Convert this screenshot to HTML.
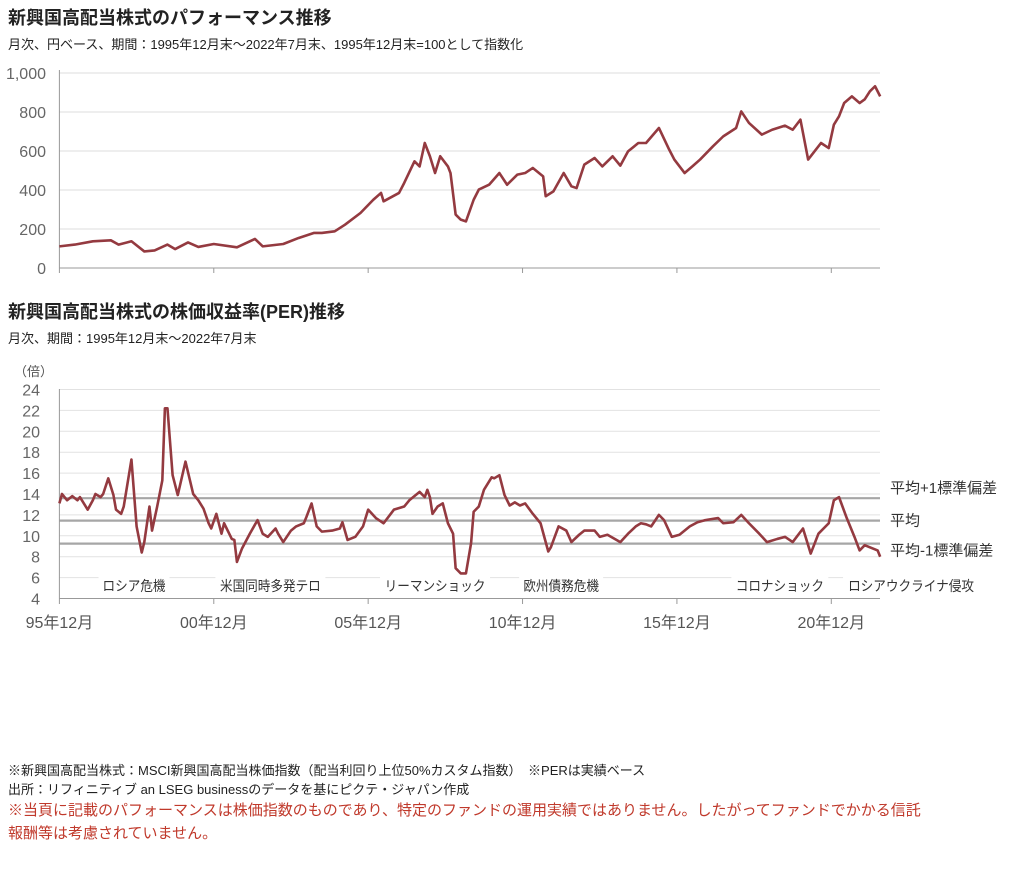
<!DOCTYPE html>
<html><head><meta charset="utf-8">
<style>
body{margin:0;background:#fff;font-family:"Liberation Sans","Noto Sans CJK JP",sans-serif;}
#wrap{position:relative;width:1028px;height:871px;overflow:hidden;}
.t{position:absolute;white-space:nowrap;color:#222;}
svg text{font-family:"Liberation Sans","Noto Sans CJK JP",sans-serif;}
</style></head><body>
<div id="wrap">
<div class="t" style="left:8px;top:4px;font-size:18px;font-weight:bold">新興国高配当株式のパフォーマンス推移</div>
<div class="t" style="left:8px;top:34px;font-size:13px">月次、円ベース、期間：1995年12月末～2022年7月末、1995年12月末=100として指数化</div>
<div class="t" style="left:8px;top:298px;font-size:18px;font-weight:bold">新興国高配当株式の株価収益率(PER)推移</div>
<div class="t" style="left:8px;top:328px;font-size:13px">月次、期間：1995年12月末～2022年7月末</div>
<svg id="svg" width="1028" height="871" style="position:absolute;left:0;top:0"></svg>
<div class="t" style="left:8px;top:760px;font-size:13px">※新興国高配当株式：MSCI新興国高配当株価指数（配当利回り上位50%カスタム指数）　※PERは実績ベース</div>
<div class="t" style="left:8px;top:779px;font-size:13px">出所：リフィニティブ an LSEG businessのデータを基にピクテ・ジャパン作成</div>
<div class="t" style="left:8px;top:799px;font-size:15px;color:#c0392b">※当頁に記載のパフォーマンスは株価指数のものであり、特定のファンドの運用実績ではありません。したがってファンドでかかる信託</div>
<div class="t" style="left:8px;top:822px;font-size:15px;color:#c0392b">報酬等は考慮されていません。</div>
</div>
<script>
const perfMonths=[0,6,13,20,23,28,33,37,42,45,50,54,60,69,76,79,87,93,99,102,107,111,117,122,125,126,132,134,138,140,142,144,146,148,151,152,154,156,158,161,163,167,171,174,178,181,184,188,189,192,196,199,201,204,208,211,215,218,221,225,228,233,237,239,243,246,249,254,258,263,265,268,273,277,282,285,288,291,293,296,299,301,303,305,308,311,313,315,317,319];
const perfValues=[111,120,137,142,120,137,85,90,120,97,131,108,123,106,149,111,123,154,180,180,188,222,282,350,385,342,385,436,547,521,641,573,487,573,521,487,274,248,239,350,402,427,487,427,479,487,513,470,368,393,487,419,410,530,564,521,573,525,598,641,641,718,607,556,487,521,556,624,675,718,803,744,684,709,730,709,761,556,590,641,615,735,778,846,880,846,865,906,932,880];
const perMonths=[0,1,3,5,7,8,11,13,14,16,17,19,21,22,24,25,28,30,32,33,35,36,38,40,41,42,44,46,49,52,54,56,58,59,61,63,64,67,68,69,71,74,77,79,81,84,85,87,90,92,95,96,98,100,102,106,109,110,112,115,118,120,123,126,130,134,136,140,142,143,144,145,147,149,151,153,154,156,158,160,161,163,165,168,169,171,173,175,177,179,181,184,187,190,191,194,197,199,202,204,208,210,213,218,221,224,226,228,230,233,235,238,241,245,248,251,256,258,262,265,268,272,275,279,282,285,289,292,295,299,301,303,306,309,311,313,315,318,319];
const perValues=[13.1,14.0,13.4,13.8,13.4,13.7,12.5,13.4,14.0,13.7,14.0,15.5,13.9,12.5,12.1,12.8,17.3,10.9,8.4,9.4,12.8,10.5,12.8,15.3,22.2,22.2,15.8,13.9,17.1,14.0,13.4,12.6,11.2,10.7,12.1,10.2,11.2,9.7,9.6,7.5,8.8,10.2,11.5,10.2,9.9,10.7,10.2,9.4,10.5,10.9,11.2,11.8,13.1,10.9,10.4,10.5,10.7,11.3,9.6,9.9,10.9,12.5,11.7,11.2,12.5,12.8,13.4,14.2,13.7,14.4,13.7,12.1,12.8,13.1,11.2,10.2,6.9,6.4,6.4,9.3,12.3,12.8,14.4,15.6,15.5,15.8,13.9,12.9,13.2,12.9,13.1,12.1,11.2,8.5,8.9,10.9,10.5,9.4,10.1,10.5,10.5,9.9,10.1,9.4,10.2,10.9,11.2,11.1,10.9,12.0,11.5,9.9,10.1,10.9,11.3,11.5,11.7,11.2,11.3,12.0,11.2,10.2,9.4,9.7,9.9,9.4,10.7,8.3,10.2,11.2,13.4,13.7,11.7,9.9,8.6,9.1,8.9,8.6,8.0];
const perfTicks=[0,200,400,600,800,1000];
const perfTickLabels=["0","200","400","600","800","1,000"];
const perTicks=[4,6,8,10,12,14,16,18,20,22,24];
const xTickMonths=[0,60,120,180,240,300];
const xTickLabels=["95年12月","00年12月","05年12月","10年12月","15年12月","20年12月"];
const bandValues=[13.6,11.45,9.25];
const bandLabels=["平均+1標準偏差","平均","平均-1標準偏差"];
const eventMonths=[29,82,146,195,280,331];
const eventLabels=["ロシア危機","米国同時多発テロ","リーマンショック","欧州債務危機","コロナショック","ロシアウクライナ侵攻"];

const NS="http://www.w3.org/2000/svg";
const svg=document.getElementById('svg');
function mk(tag,attrs,name){const e=document.createElementNS(NS,tag);for(const k in attrs)e.setAttribute(k,attrs[k]);


svg.appendChild(e);return e;}
const X0=59.4,PXM=2.573,XR=880;
const xs=m=>X0+m*PXM;
const yTop=v=>268-v*0.195;
const yBot=v=>598.5-(v-4)*10.45;

perfTicks.forEach((v,i)=>{
 if(v>0) mk('line',{x1:X0,x2:XR,y1:yTop(v),y2:yTop(v),stroke:'#ddd','stroke-width':1},'top-gridline');
 const t=mk('text',{x:46,y:yTop(v)+6,'text-anchor':'end','font-size':16,fill:'#666'},'top-y-tick-label');t.textContent=perfTickLabels[i];
});
mk('line',{x1:X0,x2:XR,y1:268,y2:268,stroke:'#999','stroke-width':1},'top-x-axis');
mk('line',{x1:X0,x2:X0,y1:70,y2:268,stroke:'#999','stroke-width':1},'top-y-axis');
xTickMonths.forEach(m=>mk('line',{x1:xs(m),x2:xs(m),y1:268,y2:273,stroke:'#999'},'top-x-tick'));
mk('polyline',{points:perfMonths.map((m,i)=>xs(m)+','+yTop(perfValues[i])).join(' '),fill:'none',stroke:'#943a40','stroke-width':2.6,'stroke-linejoin':'round'},'performance-line');

perTicks.forEach(v=>{
 if(v>4) mk('line',{x1:X0,x2:XR,y1:yBot(v),y2:yBot(v),stroke:'#e2e2e2','stroke-width':1},'per-gridline');
 const t=mk('text',{x:40,y:yBot(v)+6,'text-anchor':'end','font-size':16,fill:'#666'},'per-y-tick-label');t.textContent=v;
});
const u=mk('text',{x:14,y:376,'font-size':13,fill:'#555'},'per-y-unit');u.textContent='（倍）';
bandValues.forEach((v,i)=>{
 mk('line',{x1:X0,x2:XR,y1:yBot(v),y2:yBot(v),stroke:'#a6a6a6','stroke-width':2.2},'band-line');
 const t=mk('text',{x:890,y:yBot(v)+[-5,5,12][i],'font-size':15,fill:'#333'},'band-label');t.textContent=bandLabels[i];
});
mk('line',{x1:X0,x2:XR,y1:598.5,y2:598.5,stroke:'#999'},'per-x-axis');
mk('line',{x1:X0,x2:X0,y1:389,y2:598.5,stroke:'#999'},'per-y-axis');
xTickMonths.forEach((m,i)=>{
 mk('line',{x1:xs(m),x2:xs(m),y1:598.5,y2:604,stroke:'#999'},'per-x-tick');
 const t=mk('text',{x:xs(m),y:628,'text-anchor':'middle','font-size':16,fill:'#555'},'x-tick-label');t.textContent=xTickLabels[i];
});
mk('polyline',{points:perMonths.map((m,i)=>xs(m)+','+yBot(perValues[i])).join(' '),fill:'none',stroke:'#943a40','stroke-width':2.6,'stroke-linejoin':'round'},'per-line');
eventLabels.forEach((s,i)=>{
 const w=s.length*13;
 const cx=xs(eventMonths[i]);
 mk('rect',{x:cx-w/2-3,y:576,width:w+6,height:19,fill:'#fff'},'event-label-bg');
});
eventLabels.forEach((s,i)=>{
 const t=mk('text',{x:xs(eventMonths[i]),y:591,'text-anchor':'middle','font-size':14,fill:'#333','textLength':s.length*12.6,'lengthAdjust':'spacingAndGlyphs'},'event-label');t.textContent=s;
});
</script>
</body></html>
